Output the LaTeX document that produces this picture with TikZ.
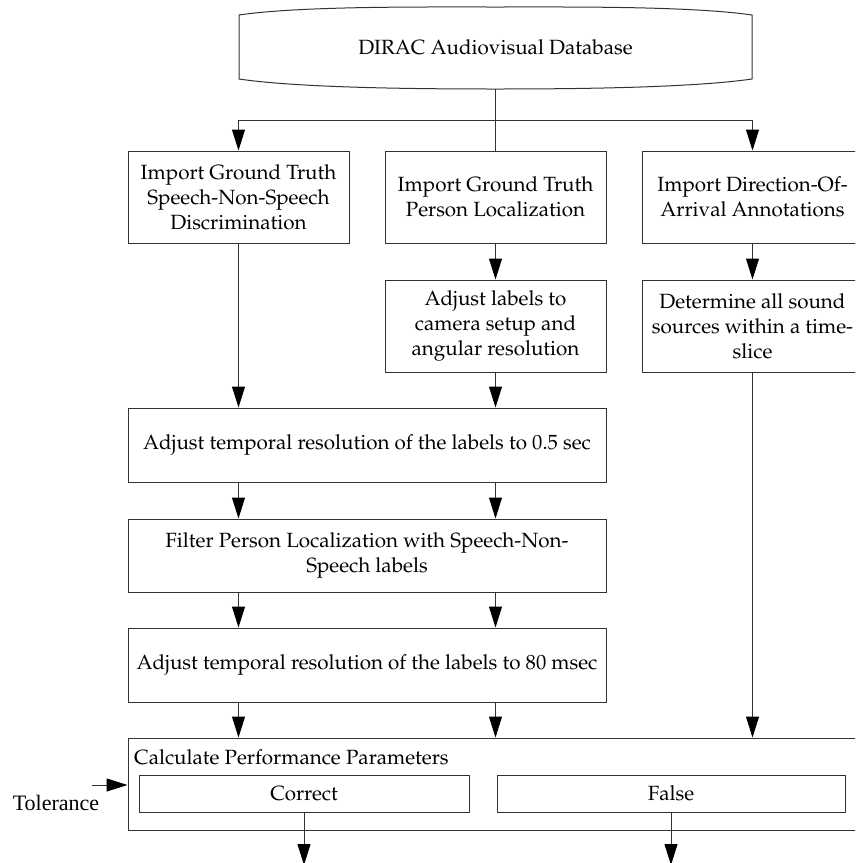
\documentclass[tikz,border=0pt]{standalone}
\usepackage[T1]{fontenc}
\usepackage{fontspec}
\newfontfamily\tolfont{Liberation Serif}
\newcommand\palfont{\fontencoding{T1}\fontfamily{ppl}\selectfont}
\usetikzlibrary{arrows.meta}
\tikzset{
  edge/.style={draw=black!80, line width=1pt},
  flow/.style={edge, -{Triangle[length=21pt,width=13pt,color=black]}},
  stepbox/.style={draw=black!80, line width=1pt, rectangle, inner sep=0pt,
    align=center, font=\palfont\fontsize{20.6}{25}\selectfont},
  plain/.style={inner sep=0pt, font=\palfont\fontsize{20.6}{25}\selectfont},
}
\begin{document}
\begin{tikzpicture}[x=1pt,y=-1pt]
\clip (0,0) rectangle (855,863);
\fill[white] (0,0) rectangle (855,863);

% database symbol: curved top and bottom
\draw[edge] (239,15) .. controls (300,6) and (420,7) .. (495.5,7)
  .. controls (570,7) and (690,6) .. (752,15) -- (752,79)
  .. controls (690,88) and (570,89) .. (495.5,89)
  .. controls (420,89) and (300,88) .. (239,79) -- cycle;
\node[plain] (db) at (495.5,47) {DIRAC Audiovisual Database};
\coordinate (dbb) at (495.5,89);

% first row
\node[stepbox, minimum width=221pt, minimum height=92pt] (imp1) at (238.5,197)
  {Import Ground Truth\\Speech-Non-Speech\\Discrimination};
\node[stepbox, minimum width=221pt, minimum height=92pt] (imp2) at (495.5,197)
  {Import Ground Truth\\Person Localization};
\node[stepbox, minimum width=221pt, minimum height=92pt] (imp3) at (752.5,197)
  {Import Direction-Of-\\Arrival Annotations};

% second row
\node[stepbox, minimum width=221pt, minimum height=92pt] (adj) at (495.5,326)
  {Adjust labels to\\camera setup and\\angular resolution};
\node[stepbox, minimum width=221pt, minimum height=92pt] (det) at (752.5,326)
  {Determine all sound\\sources within a time-\\slice};

% wide processing steps
\node[stepbox, minimum width=478pt, minimum height=74pt] (t05) at (367,445)
  {Adjust temporal resolution of the labels to 0.5 sec};
\node[stepbox, minimum width=478pt, minimum height=73pt] (filt) at (367,555.5)
  {Filter Person Localization with Speech-Non-\\Speech labels};
\node[stepbox, minimum width=478pt, minimum height=74pt] (t80) at (367,665)
  {Adjust temporal resolution of the labels to 80 msec};

% evaluation block
\node[stepbox, minimum width=742pt, minimum height=92pt] (calc) at (499,784) {};
\node[plain, anchor=west] (calct) at (134,757) {Calculate Performance Parameters};
\node[stepbox, minimum width=330pt, minimum height=37pt] (cor) at (304,793.5) {Correct};
\node[stepbox, minimum width=348pt, minimum height=37pt] (fal) at (671,793.5) {False};
\node[inner sep=0pt, font=\tolfont\fontsize{22}{24}\selectfont] (tol) at (56,803) {Tolerance};
\coordinate (tolin) at (92,785);
\coordinate (corout) at (304,865);
\coordinate (falout) at (671,865);

% distribution from the database
\draw[edge] (dbb) -- (imp2.north);
\draw[flow] (imp1.north |- 0,120) -- (imp1.north);
\draw[flow] (imp3.north |- 0,120) -- (imp3.north);
\draw[edge] (imp1.north |- 0,120) -- (imp3.north |- 0,120);

% vertical flow
\draw[flow] (imp1.south) -- (imp1.south |- t05.north);
\draw[flow] (imp2.south) -- (adj.north);
\draw[flow] (adj.south) -- (adj.south |- t05.north);
\draw[flow] (imp3.south) -- (det.north);
\draw[flow] (det.south) -- (det.south |- calc.north);

\draw[flow] (imp1.south |- t05.south) -- (imp1.south |- filt.north);
\draw[flow] (adj.south |- t05.south) -- (adj.south |- filt.north);
\draw[flow] (imp1.south |- filt.south) -- (imp1.south |- t80.north);
\draw[flow] (adj.south |- filt.south) -- (adj.south |- t80.north);
\draw[flow] (imp1.south |- t80.south) -- (imp1.south |- calc.north);
\draw[flow] (adj.south |- t80.south) -- (adj.south |- calc.north);

% outputs and tolerance input
\draw[flow] (cor.south) -- (corout);
\draw[flow] (fal.south) -- (falout);
\draw[flow] (tolin) -- (tolin -| calc.west);
\end{tikzpicture}
\end{document}
